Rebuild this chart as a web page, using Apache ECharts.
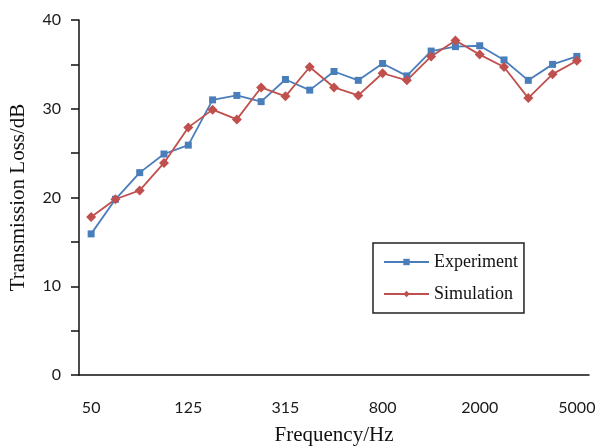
<!DOCTYPE html>
<html>
<head>
<meta charset="utf-8">
<script src="https://cdn.jsdelivr.net/npm/echarts@6/dist/echarts.min.js"></script>
<style>
  html, body { margin: 0; padding: 0; background: #fff; }
  #chart { width: 598px; height: 447px; }
</style>
</head>
<body>
<div id="chart"></div>
<script>
// 1/3 octave band centre frequencies
let freqs = ['50', '63', '80', '100', '125', '160', '200', '250', '315', '400', '500',
             '630', '800', '1000', '1250', '1600', '2000', '2500', '3150', '4000', '5000'];

let experiment = [15.9, 19.8, 22.8, 24.9, 25.9, 31.0, 31.5, 30.8, 33.3, 32.1, 34.2,
                  33.2, 35.1, 33.7, 36.5, 37.0, 37.1, 35.5, 33.2, 35.0, 35.9];

let simulation = [17.8, 19.8, 20.8, 23.9, 27.9, 29.9, 28.8, 32.4, 31.4, 34.7, 32.4,
                  31.5, 34.0, 33.2, 35.9, 37.7, 36.1, 34.7, 31.2, 33.9, 35.4];

let yTicks = [0, 10, 20, 30, 40];

let labelFont = 'Lato, "Open Sans", sans-serif';
let nameFont  = '"Liberation Serif", "Times New Roman", serif';
let axisColor = '#111';

let chart = echarts.init(document.getElementById('chart'));

let option = {
    animation: false,
    backgroundColor: '#fff',
    grid: { left: 79, right: 9, top: 20, bottom: 72, outerBoundsMode: 'none' },
    legend: {
        orient: 'vertical',
        left: 373,
        top: 243,
        padding: [10, 6, 10, 10],
        itemGap: 14,
        itemWidth: 45,
        itemHeight: 8,
        borderColor: '#222',
        borderWidth: 1.5,
        backgroundColor: '#fff',
        textStyle: { fontFamily: nameFont, fontSize: 18, color: '#111' },
        data: ['Experiment', 'Simulation']
    },
    xAxis: {
        type: 'category',
        data: freqs,
        boundaryGap: true,
        name: 'Frequency/Hz',
        nameLocation: 'middle',
        nameGap: 50,
        nameTextStyle: { fontFamily: nameFont, fontSize: 21, color: '#111' },
        axisLine: { lineStyle: { color: axisColor, width: 1.5 } },
        axisTick: { interval: 1, length: 8, lineStyle: { color: axisColor, width: 1.5 } },
        axisLabel: { interval: 3, margin: 25, fontFamily: labelFont, fontSize: 16, color: '#1a1a1a' },
        splitLine: { show: false }
    },
    yAxis: {
        type: 'value',
        min: 0,
        max: 40,
        interval: 5,
        name: 'Transmission Loss/dB',
        nameLocation: 'middle',
        nameGap: 50,
        nameTextStyle: { fontFamily: nameFont, fontSize: 21, color: '#111' },
        axisLine: { show: true, lineStyle: { color: axisColor, width: 1.5 } },
        axisTick: { show: true, length: 8, lineStyle: { color: axisColor, width: 1.5 } },
        axisLabel: {
            margin: 18,
            fontFamily: labelFont,
            fontSize: 16,
            color: '#1a1a1a',
            formatter: function (v) { return yTicks.indexOf(v) >= 0 ? String(v) : ''; }
        },
        splitLine: { show: false }
    },
    series: [
        {
            name: 'Experiment',
            type: 'line',
            data: experiment,
            symbol: 'rect',
            symbolSize: 7,
            lineStyle: { color: '#4a7ebb', width: 1.8 },
            itemStyle: { color: '#4a7ebb' }
        },
        {
            name: 'Simulation',
            type: 'line',
            data: simulation,
            symbol: 'diamond',
            symbolSize: 10,
            lineStyle: { color: '#c0504d', width: 1.8 },
            itemStyle: { color: '#c0504d' }
        }
    ]
};

chart.setOption(option);
</script>
</body>
</html>
